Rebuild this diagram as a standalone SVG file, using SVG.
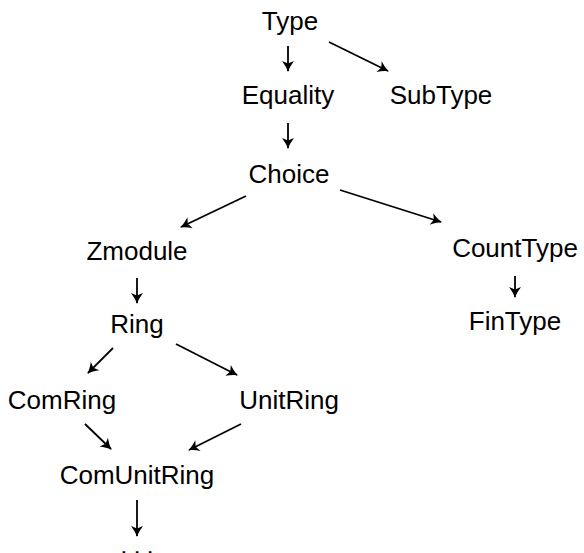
<svg xmlns="http://www.w3.org/2000/svg" width="584" height="553" viewBox="0 0 584 553">
  <style>
    .lbl { font-family: "Liberation Sans", "DejaVu Sans", sans-serif; font-size: 26px; fill: #000; text-anchor: middle; }
    .edge { stroke: #000; stroke-width: 1.8; fill: none; marker-end: url(#head); }
  </style>
  <defs>
    <marker id="head" viewBox="-12 -7 14 14" refX="0" refY="0" markerWidth="14" markerHeight="14" markerUnits="userSpaceOnUse" orient="auto">
      <path d="M1,0 C-3,-1.2 -6.5,-3.5 -10,-6 L-7.5,0 L-10,6 C-6.5,3.5 -3,1.2 1,0 Z" fill="#000"/>
    </marker>
  </defs>
  <rect width="584" height="553" fill="#fff"/>

  <g id="connectors">
    <line class="edge" x1="288" y1="46" x2="288" y2="71"/>
    <line class="edge" x1="329" y1="42" x2="388" y2="71"/>
    <line class="edge" x1="288" y1="123" x2="288" y2="148"/>
    <line class="edge" x1="246" y1="196" x2="181" y2="227"/>
    <line class="edge" x1="340" y1="190" x2="441" y2="222"/>
    <line class="edge" x1="137" y1="278" x2="137" y2="303"/>
    <line class="edge" x1="515" y1="276" x2="515" y2="297"/>
    <line class="edge" x1="113" y1="348" x2="88" y2="373"/>
    <line class="edge" x1="176" y1="344" x2="237" y2="375"/>
    <line class="edge" x1="85" y1="424" x2="111" y2="449"/>
    <line class="edge" x1="241" y1="424" x2="189" y2="450"/>
    <line class="edge" x1="137" y1="500" x2="137" y2="536"/>
  </g>

  <g id="n-type"><text class="lbl" x="290" y="30">Type</text></g>
  <g id="n-equality"><text class="lbl" x="288" y="104">Equality</text></g>
  <g id="n-subtype"><text class="lbl" x="441" y="104">SubType</text></g>
  <g id="n-choice"><text class="lbl" x="289" y="183">Choice</text></g>
  <g id="n-zmodule"><text class="lbl" x="137" y="260">Zmodule</text></g>
  <g id="n-counttype"><text class="lbl" x="515" y="257">CountType</text></g>
  <g id="n-ring"><text class="lbl" x="137" y="333">Ring</text></g>
  <g id="n-fintype"><text class="lbl" x="515" y="330">FinType</text></g>
  <g id="n-comring"><text class="lbl" x="62" y="409">ComRing</text></g>
  <g id="n-unitring"><text class="lbl" x="289" y="409">UnitRing</text></g>
  <g id="n-comunitring"><text class="lbl" x="137" y="484">ComUnitRing</text></g>
  <g id="n-more"><text class="lbl" x="140" y="554" letter-spacing="6">...</text></g>
</svg>
